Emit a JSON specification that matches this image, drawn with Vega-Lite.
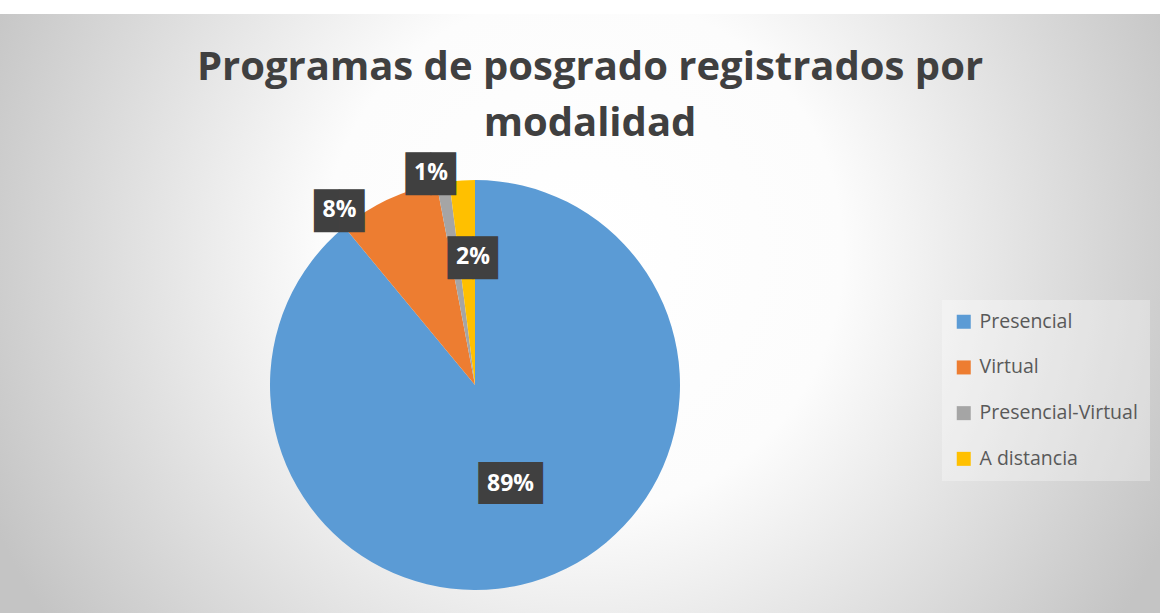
{
  "$schema": "https://vega.github.io/schema/vega-lite/v6.json",
  "width": 1370,
  "height": 742,
  "autosize": {"type": "none"},
  "padding": {"left": -210, "top": 14, "right": 0, "bottom": -143},
  "background": "#ffffff",
  "config": {"view": {"stroke": null}, "font": "Open Sans"},
  "title": {
    "text": ["Programas de posgrado registrados por", "modalidad"],
    "font": "Open Sans",
    "fontSize": 40,
    "fontWeight": "bold",
    "color": "#404040",
    "lineHeight": 56,
    "anchor": "middle",
    "frame": "group",
    "dx": 115,
    "offset": -130
  },
  "data": {
    "values": [
      {"modalidad": "Presencial", "valor": 0.89, "orden": 1},
      {"modalidad": "Virtual", "valor": 0.08, "orden": 2},
      {"modalidad": "Presencial-Virtual", "valor": 0.01, "orden": 3},
      {"modalidad": "A distancia", "valor": 0.02, "orden": 4}
    ]
  },
  "layer": [
    {
      "data": {"values": [{"fondo": 1}]},
      "mark": {
        "type": "rect",
        "fill": {
          "gradient": "radial",
          "x1": 0.579, "y1": 0.403, "r1": 0,
          "x2": 0.579, "y2": 0.403, "r2": 0.474,
          "stops": [
            {"offset": 0, "color": "#ffffff"},
            {"offset": 0.4, "color": "#fcfcfc"},
            {"offset": 1, "color": "#c4c4c4"}
          ]
        }
      },
      "encoding": {}
    },
    {
      "mark": {"type": "arc", "outerRadius": 205},
      "encoding": {
        "theta": {"field": "valor", "type": "quantitative", "stack": true},
        "order": {"field": "orden", "type": "quantitative"},
        "color": {
          "field": "modalidad",
          "type": "nominal",
          "scale": {
            "domain": ["Presencial", "Virtual", "Presencial-Virtual", "A distancia"],
            "range": ["#5B9BD5", "#ED7D31", "#A5A5A5", "#FFC000"]
          },
          "legend": {
            "title": null,
            "orient": "none",
            "legendX": 1152,
            "legendY": 286,
            "symbolType": "square",
            "symbolSize": 196,
            "symbolStrokeWidth": 0,
            "labelFont": "Open Sans",
            "labelFontSize": 19.5,
            "labelColor": "#595959",
            "labelOffset": 6,
            "rowPadding": 24.7,
            "padding": 12,
            "fillColor": "rgba(255,255,255,0.3)"
          }
        }
      }
    },
    {
      "mark": {
        "type": "text",
        "font": "DejaVu Sans Mono",
        "fill": "#404040",
        "align": "center",
        "baseline": "middle",
        "radius": {"expr": "datum.modalidad == 'Presencial' ? 105 : datum.modalidad == 'A distancia' ? 128 : datum.modalidad == 'Virtual' ? 221 : 217"},
        "thetaOffset": {"expr": "datum.modalidad == 'Virtual' ? -0.22 : datum.modalidad == 'Presencial-Virtual' ? -0.047 : datum.modalidad == 'A distancia' ? 0.047 : 0"}
      },
      "encoding": {
        "theta": {"field": "valor", "type": "quantitative", "stack": true},
        "order": {"field": "orden", "type": "quantitative"},
        "detail": {"field": "modalidad", "type": "nominal"},
        "text": {"condition": {"test": "datum.modalidad == 'Presencial'", "value": "███"}, "value": "▇▇"},
        "size": {"condition": {"test": "datum.modalidad == 'Presencial'", "value": 35.4}, "value": 41.5}
      }
    },
    {
      "mark": {
        "type": "text",
        "font": "Open Sans",
        "fontWeight": "bold",
        "fontSize": 23,
        "fill": "#ffffff",
        "align": "center",
        "baseline": "middle",
        "radius": {"expr": "datum.modalidad == 'Presencial' ? 105 : datum.modalidad == 'A distancia' ? 128 : datum.modalidad == 'Virtual' ? 221 : 217"},
        "thetaOffset": {"expr": "datum.modalidad == 'Virtual' ? -0.22 : datum.modalidad == 'Presencial-Virtual' ? -0.047 : datum.modalidad == 'A distancia' ? 0.047 : 0"}
      },
      "encoding": {
        "theta": {"field": "valor", "type": "quantitative", "stack": true},
        "order": {"field": "orden", "type": "quantitative"},
        "detail": {"field": "modalidad", "type": "nominal"},
        "text": {"field": "valor", "type": "quantitative", "format": ".0%"}
      }
    }
  ]
}
